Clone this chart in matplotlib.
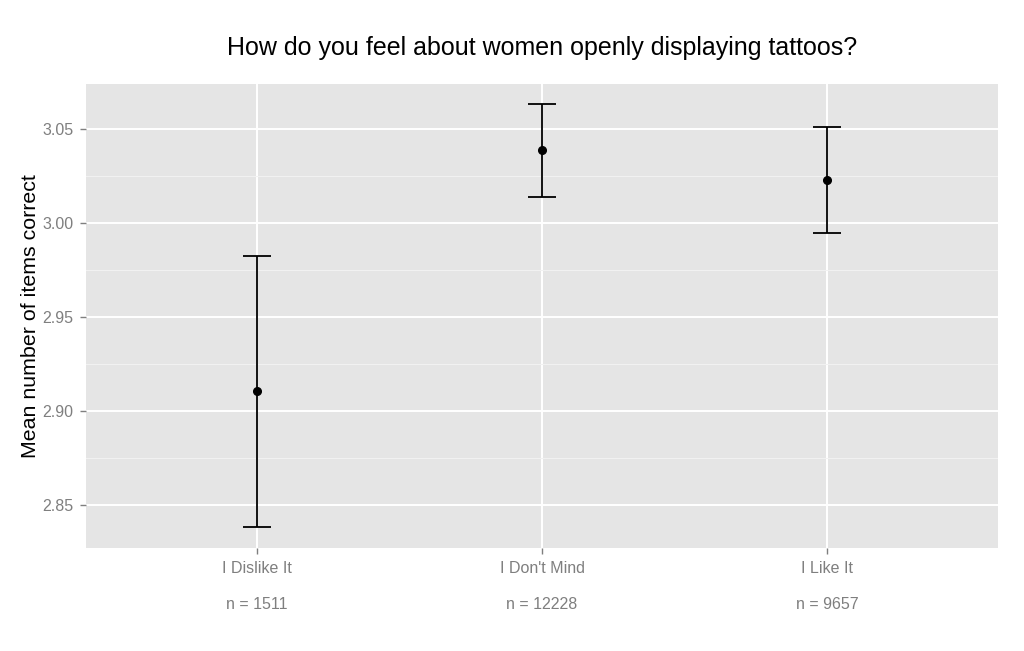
import matplotlib.pyplot as plt
import numpy as np

# dados
categorias = ["I Dislike It", "I Don't Mind", "I Like It"]
n_resp = [1511, 12228, 9657]
media = [2.9106, 3.0388, 3.0229]
limite_sup = [2.9824, 3.0633, 3.0511]
limite_inf = [2.8383, 3.0138, 2.9947]

plt.rcParams['font.family'] = ['Liberation Sans', 'DejaVu Sans']

fig = plt.figure(figsize=(10.24, 6.51), dpi=100)
ax = fig.add_axes([0.084, 0.1582, 0.8906, 0.7128])
ax.set_facecolor('#E5E5E5')

x = np.arange(1, len(categorias) + 1)
media = np.array(media)
erro = [media - np.array(limite_inf), np.array(limite_sup) - media]

ax.errorbar(x, media, yerr=erro, fmt='o', color='black', ms=5.5,
            elinewidth=1.3, capsize=10, capthick=1.3, zorder=3)

ax.set_xlim(0.4, 3.6)
ax.set_ylim(2.8271, 3.0739)

ax.set_yticks([2.85, 2.90, 2.95, 3.00, 3.05])
ax.set_yticks([2.875, 2.925, 2.975, 3.025], minor=True)
ax.set_yticklabels(["2.85", "2.90", "2.95", "3.00", "3.05"])
ax.set_xticks(x)
ax.set_xticklabels([f"{c}\n\nn = {n}" for c, n in zip(categorias, n_resp)],
                   linespacing=1.28)

ax.grid(which='major', color='white', linewidth=1.4)
ax.grid(which='minor', axis='y', color='#F2F2F2', linewidth=0.7)
ax.set_axisbelow(True)
for s in ax.spines.values():
    s.set_visible(False)

ax.tick_params(axis='both', which='major', colors='#7F7F7F', labelsize=11.5,
               length=4, width=1, pad=5)
ax.tick_params(axis='y', which='minor', length=0)

ax.set_ylabel("Mean number of items correct", fontsize=15.4, color='black', labelpad=2)
ax.set_title("How do you feel about women openly displaying tattoos?",
             fontsize=18, color='black', pad=21)

plt.savefig('out.png', dpi=100)
plt.close()
